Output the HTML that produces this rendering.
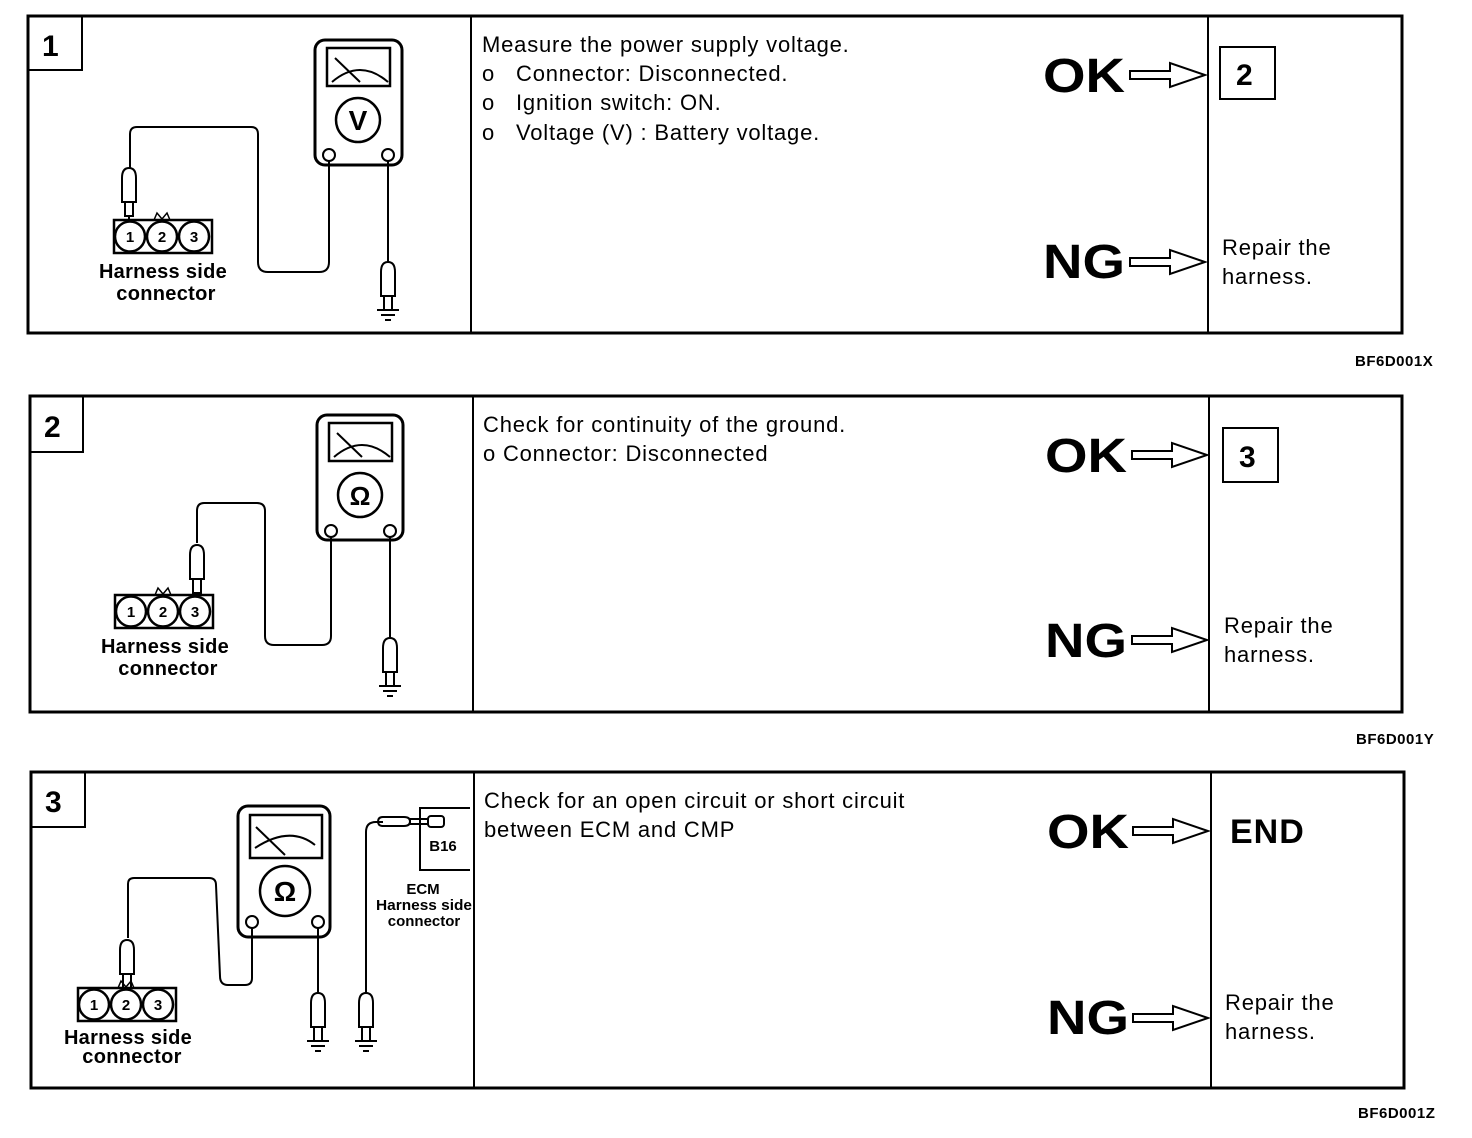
<!DOCTYPE html>
<html><head><meta charset="utf-8"><style>
html,body{margin:0;padding:0;background:#fff;}
svg{display:block;}
text{font-family:"Liberation Sans",Arial,sans-serif;fill:#000;}
.t{font-size:22px;letter-spacing:0.8px;}
.big{font-size:48px;font-weight:bold;}
.lbl{font-size:20px;font-weight:bold;letter-spacing:0.3px;}
.num{font-size:30px;font-weight:bold;}
.cn{font-size:15px;font-weight:bold;}
.code{font-size:15px;font-weight:bold;letter-spacing:0.5px;}
.sm{font-size:15px;font-weight:bold;}
</style></head><body>
<svg width="1472" height="1138" viewBox="0 0 1472 1138" xmlns="http://www.w3.org/2000/svg">
<defs>
<g id="arrow"><path d="M0,-4 H40 V-12 L75,0 L40,12 V4 H0 Z" fill="#fff" stroke="#000" stroke-width="2"/></g>
<g id="probe"><path d="M-7,0 Q-7,-10 0,-10 Q7,-10 7,0 V24 H-7 Z" fill="#fff" stroke="#000" stroke-width="2"/><rect x="-4" y="24" width="8" height="14" fill="#fff" stroke="#000" stroke-width="2"/></g>
<g id="gnd"><line x1="-11" y1="0" x2="11" y2="0" stroke="#000" stroke-width="2"/><line x1="-7" y1="5" x2="7" y2="5" stroke="#000" stroke-width="2"/><line x1="-3" y1="10" x2="3" y2="10" stroke="#000" stroke-width="2"/></g>
<g id="conn"><rect x="0" y="0" width="98" height="33" fill="#fff" stroke="#000" stroke-width="2.5"/><circle cx="16" cy="16.5" r="15" fill="#fff" stroke="#000" stroke-width="2.5"/><circle cx="48" cy="16.5" r="15" fill="#fff" stroke="#000" stroke-width="2.5"/><circle cx="80" cy="16.5" r="15" fill="#fff" stroke="#000" stroke-width="2.5"/><path d="M40,0 L43,-7 L48,-1 L53,-7 L56,0" fill="none" stroke="#000" stroke-width="1.5"/></g>
</defs>
<g fill="none" stroke="#000">
<rect x="28" y="16" width="1374" height="317" stroke-width="3"/>
<line x1="471" y1="16" x2="471" y2="333" stroke-width="2"/>
<line x1="1208" y1="16" x2="1208" y2="333" stroke-width="2"/>
<path d="M28,70 H82 V16" stroke-width="2"/>
<rect x="1220" y="47" width="55" height="52" stroke-width="2"/>
<rect x="30" y="396" width="1372" height="316" stroke-width="3"/>
<line x1="473" y1="396" x2="473" y2="712" stroke-width="2"/>
<line x1="1209" y1="396" x2="1209" y2="712" stroke-width="2"/>
<path d="M30,452 H83 V396" stroke-width="2"/>
<rect x="1223" y="428" width="55" height="54" stroke-width="2"/>
<rect x="31" y="772" width="1373" height="316" stroke-width="3"/>
<line x1="474" y1="772" x2="474" y2="1088" stroke-width="2"/>
<line x1="1211" y1="772" x2="1211" y2="1088" stroke-width="2"/>
<path d="M31,827 H85 V772" stroke-width="2"/>
</g>
<use href="#arrow" x="1130" y="75"/>
<use href="#arrow" x="1130" y="262"/>
<use href="#arrow" x="1132" y="455"/>
<use href="#arrow" x="1132" y="640"/>
<use href="#arrow" x="1133" y="831"/>
<use href="#arrow" x="1133" y="1018"/>

<!-- Panel 1 diagram -->
<g fill="none" stroke="#000">
<rect x="315" y="40" width="87" height="125" rx="10" stroke-width="3"/>
<rect x="327" y="48" width="63" height="38" stroke-width="2.5"/>
<path d="M332,82 Q360,58 388,82" stroke-width="2"/><line x1="335" y1="58" x2="360" y2="82" stroke-width="2"/>
<circle cx="358" cy="120" r="22" stroke-width="2.5"/>
<circle cx="329" cy="155" r="6" stroke-width="2"/><circle cx="388" cy="155" r="6" stroke-width="2"/>
<path d="M329,161 V262 Q329,272 319,272 H268 Q258,272 258,262 V134 Q258,127 251,127 H137 Q130,127 130,134 V168" stroke-width="2"/>
<line x1="388" y1="161" x2="388" y2="265" stroke-width="2"/>
<line x1="129" y1="200" x2="129" y2="220" stroke-width="2"/>
</g>
<use href="#probe" x="129" y="178"/>
<use href="#conn" x="114" y="220"/>
<use href="#probe" x="388" y="272"/>
<use href="#gnd" x="388" y="310"/>
<text x="358" y="130" text-anchor="middle" style="font-size:28px;font-weight:bold">V</text>
<text class="cn" x="130" y="242" text-anchor="middle">1</text><text class="cn" x="162" y="242" text-anchor="middle">2</text><text class="cn" x="194" y="242" text-anchor="middle">3</text>
<text class="lbl" x="163" y="278" text-anchor="middle">Harness side</text>
<text class="lbl" x="166" y="300" text-anchor="middle">connector</text>
<text class="num" x="42" y="56">1</text>
<text class="t" x="482" y="52">Measure the power supply voltage.</text>
<text class="t" x="482" y="81">o</text><text class="t" x="516" y="81">Connector: Disconnected.</text>
<text class="t" x="482" y="110">o</text><text class="t" x="516" y="110">Ignition switch: ON.</text>
<text class="t" x="482" y="140">o</text><text class="t" x="516" y="140">Voltage (V) : Battery voltage.</text>
<text class="big" x="1043" y="92" textLength="82" lengthAdjust="spacingAndGlyphs">OK</text>
<text class="big" x="1043" y="278" textLength="82" lengthAdjust="spacingAndGlyphs">NG</text>
<text class="num" x="1236" y="85">2</text>
<text class="t" x="1222" y="255">Repair the</text>
<text class="t" x="1222" y="284">harness.</text>
<text class="code" x="1355" y="366">BF6D001X</text>

<!-- Panel 2 diagram -->
<g fill="none" stroke="#000">
<rect x="317" y="415" width="86" height="125" rx="10" stroke-width="3"/>
<rect x="329" y="423" width="63" height="38" stroke-width="2.5"/>
<path d="M334,457 Q362,433 390,457" stroke-width="2"/><line x1="337" y1="433" x2="362" y2="457" stroke-width="2"/>
<circle cx="360" cy="495" r="22" stroke-width="2.5"/>
<circle cx="331" cy="531" r="6" stroke-width="2"/><circle cx="390" cy="531" r="6" stroke-width="2"/>
<path d="M331,537 V636 Q331,645 322,645 H274 Q265,645 265,636 V511 Q265,503 257,503 H204 Q197,503 197,511 V543" stroke-width="2"/>
<line x1="390" y1="537" x2="390" y2="640" stroke-width="2"/>
<line x1="197" y1="578" x2="197" y2="595" stroke-width="2"/>
</g>
<use href="#probe" x="197" y="555"/>
<use href="#conn" x="115" y="595"/>
<use href="#probe" x="390" y="648"/>
<use href="#gnd" x="390" y="686"/>
<text x="360" y="505" text-anchor="middle" style="font-size:26px;font-weight:bold">Ω</text>
<text class="cn" x="131" y="617" text-anchor="middle">1</text><text class="cn" x="163" y="617" text-anchor="middle">2</text><text class="cn" x="195" y="617" text-anchor="middle">3</text>
<text class="lbl" x="165" y="653" text-anchor="middle">Harness side</text>
<text class="lbl" x="168" y="675" text-anchor="middle">connector</text>
<text class="num" x="44" y="437">2</text>
<text class="t" x="483" y="432">Check for continuity of the ground.</text>
<text class="t" x="483" y="461">o Connector: Disconnected</text>
<text class="big" x="1045" y="472" textLength="82" lengthAdjust="spacingAndGlyphs">OK</text>
<text class="big" x="1045" y="657" textLength="82" lengthAdjust="spacingAndGlyphs">NG</text>
<text class="num" x="1239" y="467">3</text>
<text class="t" x="1224" y="633">Repair the</text>
<text class="t" x="1224" y="662">harness.</text>
<text class="code" x="1356" y="744">BF6D001Y</text>

<!-- Panel 3 diagram -->
<g fill="none" stroke="#000">
<rect x="238" y="806" width="92" height="131" rx="10" stroke-width="3"/>
<rect x="250" y="815" width="72" height="43" stroke-width="2.5"/>
<path d="M255,848 Q290,825 315,845" stroke-width="2"/><line x1="256" y1="827" x2="285" y2="855" stroke-width="2"/>
<circle cx="285" cy="891" r="25" stroke-width="2.5"/>
<circle cx="252" cy="922" r="6" stroke-width="2"/><circle cx="318" cy="922" r="6" stroke-width="2"/>
<path d="M252,928 V978 Q252,985 245,985 H228 Q220,985 220,976 L216,885 Q216,878 209,878 H134 Q128,878 128,884 V938" stroke-width="2"/>
<line x1="318" y1="928" x2="318" y2="995" stroke-width="2"/>
<path d="M366,995 V832 Q366,822 376,822 H383" stroke-width="2"/>
<path d="M383,817 H404 Q410,817 410,821.5 Q410,826 404,826 H383 Q378,826 378,821.5 Q378,817 383,817 Z" stroke-width="2"/>
<rect x="410" y="819" width="18" height="5" stroke-width="2"/>
<rect x="428" y="816" width="16" height="11" rx="3" stroke-width="2"/>
<path d="M470,808 H420 V870 H470" stroke-width="2"/>
<line x1="127" y1="972" x2="127" y2="988" stroke-width="2"/>
</g>
<use href="#probe" x="127" y="950"/>
<use href="#conn" x="78" y="988"/>
<use href="#probe" x="318" y="1003"/>
<use href="#gnd" x="318" y="1041"/>
<use href="#probe" x="366" y="1003"/>
<use href="#gnd" x="366" y="1041"/>
<text x="285" y="901" text-anchor="middle" style="font-size:28px;font-weight:bold">Ω</text>
<text class="cn" x="94" y="1010" text-anchor="middle">1</text><text class="cn" x="126" y="1010" text-anchor="middle">2</text><text class="cn" x="158" y="1010" text-anchor="middle">3</text>
<text class="sm" x="443" y="851" text-anchor="middle">B16</text>
<text class="sm" x="423" y="894" text-anchor="middle">ECM</text>
<text class="sm" x="424" y="910" text-anchor="middle" textLength="96" lengthAdjust="spacingAndGlyphs">Harness side</text>
<text class="sm" x="424" y="926" text-anchor="middle">connector</text>
<text class="lbl" x="128" y="1044" text-anchor="middle">Harness side</text>
<text class="lbl" x="132" y="1063" text-anchor="middle">connector</text>
<text class="num" x="45" y="812">3</text>
<text class="t" x="484" y="808">Check for an open circuit or short circuit</text>
<text class="t" x="484" y="837">between ECM and CMP</text>
<text class="big" x="1047" y="848" textLength="82" lengthAdjust="spacingAndGlyphs">OK</text>
<text class="big" x="1047" y="1034" textLength="82" lengthAdjust="spacingAndGlyphs">NG</text>
<text x="1230" y="843" style="font-size:34px;font-weight:bold;letter-spacing:1px">END</text>
<text class="t" x="1225" y="1010">Repair the</text>
<text class="t" x="1225" y="1039">harness.</text>
<text class="code" x="1358" y="1118">BF6D001Z</text>
</svg>
</body></html>
